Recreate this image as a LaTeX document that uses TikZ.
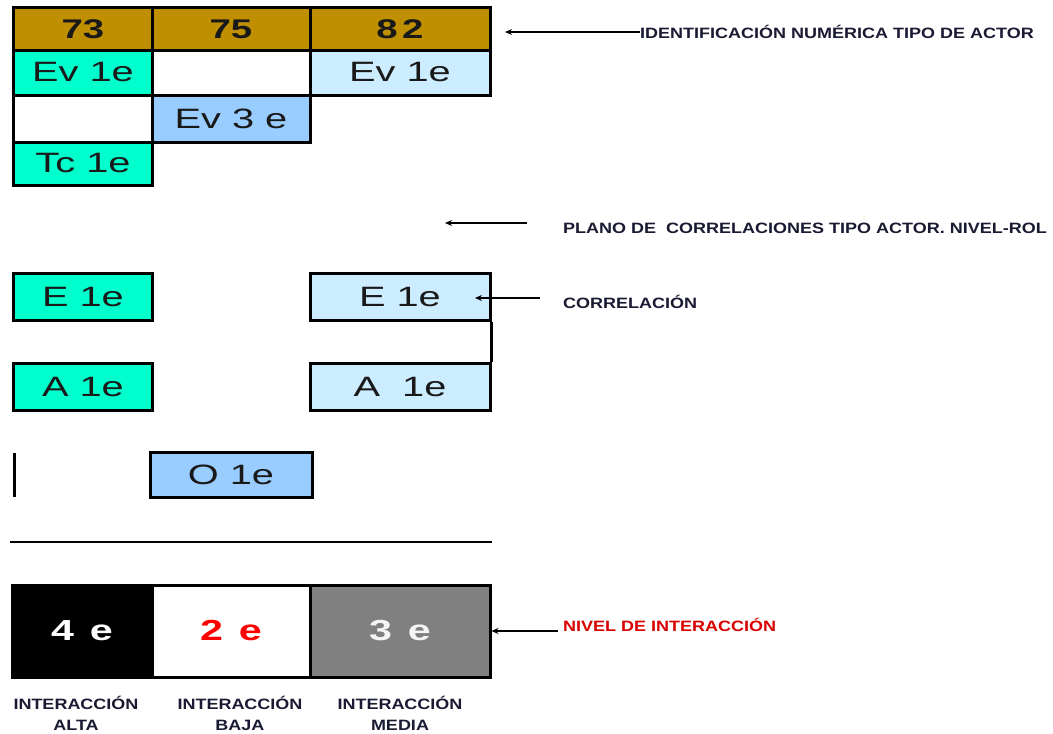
\documentclass[tikz,border=0pt]{standalone}
\usepackage{fontspec}
\setmainfont{Liberation Sans}
\newfontfamily\widefont{Liberation Sans}[FakeStretch=1.42]
\newfontfamily\notefont{Liberation Sans}[FakeStretch=1.2]
\usetikzlibrary{arrows.meta}
\definecolor{gold}{HTML}{BF8F00}
\definecolor{teal2}{HTML}{00FFCC}
\definecolor{lblue}{HTML}{CCECFF}
\definecolor{mblue}{HTML}{99CCFF}
\definecolor{gray5}{HTML}{808080}
\definecolor{lab}{HTML}{1A1A33}
\definecolor{red2}{HTML}{FF0000}
\begin{document}
\begin{tikzpicture}[x=1pt,y=-1pt,
  cell/.style={draw=black,line width=3pt,inner sep=0pt,text=black!90,font=\widefont\fontsize{28}{30}\selectfont},
  hdr/.style={cell,fill=gold,font=\widefont\fontsize{27}{29}\selectfont\bfseries},
  big/.style={cell,font=\widefont\fontsize{29}{31}\selectfont\bfseries},
  note/.style={anchor=west,inner sep=0pt,font=\notefont\fontsize{15}{17}\selectfont\bfseries,text=lab},
  arr/.style={line width=2pt,-{Stealth[length=7pt,width=6pt]}},
  blab/.style={align=center,inner sep=0pt,font=\notefont\fontsize{15}{21}\selectfont\bfseries,text=lab}]
\useasboundingbox (0,0) rectangle (1053,734);
% header
\node[hdr,minimum width=139pt,minimum height=43pt] (h73) at (83,29) {73};
\node[hdr,minimum width=158pt,minimum height=43pt] (h75) at (231,29) {75};
\node[hdr,minimum width=180pt,minimum height=43pt] (h82) at (400,29) {8\,2};
% row 2
\node[cell,fill=teal2,minimum width=139pt,minimum height=45pt] (r2a) at (83,72.5) {Ev 1e};
\node[cell,fill=white,minimum width=158pt,minimum height=45pt] (r2b) at (231,72.5) {};
\node[cell,fill=lblue,minimum width=180pt,minimum height=45pt] (r2c) at (400,72.5) {Ev 1e};
% row 3
\node[cell,fill=white,minimum width=139pt,minimum height=47pt] (r3a) at (83,118.5) {};
\node[cell,fill=mblue,minimum width=158pt,minimum height=47pt] (r3b) at (231,118.5) {Ev 3 e};
% row 4
\node[cell,fill=teal2,minimum width=139pt,minimum height=43pt] (r4a) at (83,163.5) {Tc 1e};
% correlations
\node[cell,fill=teal2,minimum width=139pt,minimum height=47pt] (e1a) at (83,297) {E 1e};
\node[cell,fill=lblue,minimum width=180pt,minimum height=47pt] (e1b) at (400,297) {E 1e};
\node[cell,fill=teal2,minimum width=139pt,minimum height=47pt] (a1a) at (83,386.5) {A 1e};
\node[cell,fill=lblue,minimum width=180pt,minimum height=47pt] (a1b) at (400,386.5) {A\ \ 1e};
\node[cell,fill=mblue,minimum width=162pt,minimum height=45pt] (o1) at (231,474.5) {O 1e};
\draw[line width=3pt] (e1b.south east) -- (a1b.north east);
\coordinate (vt) at (14,453);
\coordinate (vb) at (14,497);
\draw[line width=3pt] (vt) -- (vb);
\coordinate (hl) at (10,542);
\coordinate (hr) at (492,542);
\draw[line width=2.5pt] (hl) -- (hr);
% interaction bar
\node[big,fill=black,text=white,minimum width=140pt,minimum height=92pt] (b4) at (82,631) {4\hspace{0.55em}e};
\node[big,fill=white,text=red2,minimum width=158pt,minimum height=92pt] (b2) at (231,631) {2\hspace{0.55em}e};
\node[big,fill=gray5,text=white!92!gray,minimum width=180pt,minimum height=92pt] (b3) at (400,631) {3\hspace{0.55em}e};
% notes
\node[note] (n1) at (640,32) {IDENTIFICACIÓN NUMÉRICA TIPO DE ACTOR};
\node[note] (n2) at (563,228) {PLANO DE\ \ CORRELACIONES TIPO ACTOR. NIVEL-ROL};
\node[note] (n3) at (563,302) {CORRELACIÓN};
\node[note,text=red!85!black] (n4) at (563,625) {NIVEL DE INTERACCIÓN};
\coordinate (t1) at (505,32);
\draw[arr] (n1.west) -- (t1);
\coordinate (s2) at (527,223);
\coordinate (t2) at (445,223);
\draw[arr] (s2) -- (t2);
\coordinate (s3) at (540,298);
\coordinate (t3) at (475,298);
\draw[arr] (s3) -- (t3);
\coordinate (s4) at (558,631);
\draw[arr] (s4) -- (b3.east);
% bottom labels
\node[blab] (l1) at (76,713) {INTERACCIÓN\\ALTA};
\node[blab] (l2) at (240,713) {INTERACCIÓN\\BAJA};
\node[blab] (l3) at (400,713) {INTERACCIÓN\\MEDIA};
\end{tikzpicture}
\end{document}
